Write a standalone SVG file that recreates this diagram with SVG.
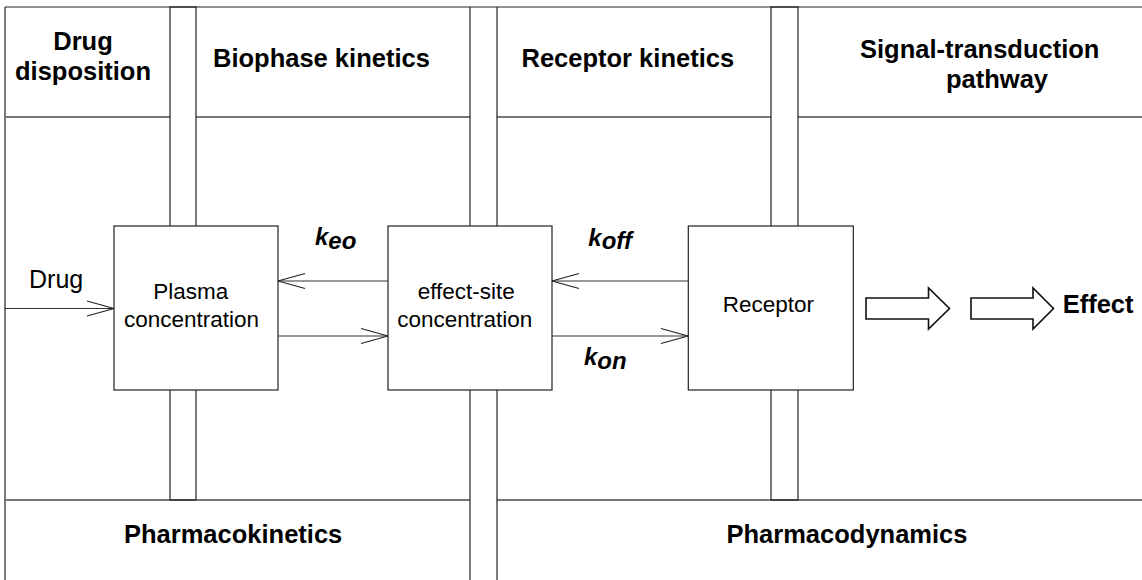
<svg xmlns="http://www.w3.org/2000/svg" width="1142" height="580" viewBox="0 0 1142 580">
<style>
.frame{stroke:#222;stroke-width:1.2;fill:none}
.div{stroke:#777;stroke-width:2;fill:none}
.box{stroke:#222;stroke-width:1.2;fill:#fff}
.conn{stroke:#333;stroke-width:1.2;fill:none}
.blk{stroke:#111;stroke-width:1.6;fill:#fff;stroke-linejoin:miter}
.hd{font-family:"Liberation Sans",Arial,sans-serif;font-weight:bold;font-size:25.5px;fill:#000}
.tx{font-family:"Liberation Sans",Arial,sans-serif;font-size:22.5px;fill:#000}
.k{font-family:"Liberation Sans",Arial,sans-serif;font-weight:bold;font-style:italic;font-size:24px;fill:#000}
</style>
<defs>
<marker id="open" markerUnits="userSpaceOnUse" markerWidth="32" markerHeight="20" viewBox="-30 -10 32 20" refX="0" refY="0" orient="auto">
<path d="M-27,-7.5 L0,0 L-27,7.5" fill="none" stroke="#222" stroke-width="1.2"/>
</marker>
</defs>
<rect width="1142" height="580" fill="#fff"/>
<g id="frame">
<line class="frame" x1="5" y1="7" x2="1142" y2="7"/>
<line class="frame" x1="5" y1="7" x2="5" y2="580"/>
<line class="div" x1="5" y1="117" x2="170" y2="117"/>
<line class="div" x1="196" y1="117" x2="470" y2="117"/>
<line class="div" x1="497" y1="117" x2="771" y2="117"/>
<line class="div" x1="798" y1="117" x2="1142" y2="117"/>
<line class="div" x1="5" y1="500" x2="470" y2="500"/>
<line class="div" x1="497" y1="500" x2="1142" y2="500"/>
<rect class="frame" x="170" y="7" width="26" height="493"/>
<line class="frame" x1="470" y1="7" x2="470" y2="580"/>
<line class="frame" x1="497" y1="7" x2="497" y2="580"/>
<rect class="frame" x="771" y="7" width="27" height="493"/>
</g>
<g id="headers">
<text class="hd" x="83" y="50" text-anchor="middle">Drug</text>
<text class="hd" x="83" y="80" text-anchor="middle">disposition</text>
<text class="hd" x="213" y="67">Biophase kinetics</text>
<text class="hd" x="521.5" y="67">Receptor kinetics</text>
<text class="hd" x="860" y="58">Signal-transduction</text>
<text class="hd" x="946" y="88">pathway</text>
<text class="hd" x="124" y="543">Pharmacokinetics</text>
<text class="hd" x="726.5" y="543">Pharmacodynamics</text>
</g>
<g id="connectors">
<line class="conn" x1="5" y1="308.5" x2="114" y2="308.5" marker-end="url(#open)"/>
<line class="conn" x1="388" y1="281" x2="278" y2="281" marker-end="url(#open)"/>
<line class="conn" x1="278" y1="336" x2="388" y2="336" marker-end="url(#open)"/>
<line class="conn" x1="688" y1="281" x2="552" y2="281" marker-end="url(#open)"/>
<line class="conn" x1="552" y1="336" x2="688" y2="336" marker-end="url(#open)"/>
<polygon class="blk" points="866,298 928.5,298 928.5,288 949.5,308.5 928.5,329 928.5,319 866,319"/>
<polygon class="blk" points="971,298 1033,298 1033,288 1053.5,308.5 1033,329 1033,319 971,319"/>
</g>
<g id="plasma">
<rect class="box" x="114" y="226" width="164" height="164"/>
<text class="tx" x="153.3" y="299.3">Plasma</text>
<text class="tx" x="124" y="326.7">concentration</text>
</g>
<g id="effect-site">
<rect class="box" x="388" y="226" width="164" height="164"/>
<text class="tx" x="417.7" y="299.3">effect-site</text>
<text class="tx" x="397.3" y="326.7">concentration</text>
</g>
<g id="receptor">
<rect class="box" x="688.3" y="226" width="165" height="164"/>
<text class="tx" x="722.7" y="311.7">Receptor</text>
</g>
<g id="labels">
<text class="tx" x="29" y="288" style="font-size:25px">Drug</text>
<text class="k" x="315" y="245">k<tspan dy="4.3">eo</tspan></text>
<text class="k" x="588.3" y="246">k<tspan dy="3.3">off</tspan></text>
<text class="k" x="584" y="365">k<tspan dy="4.3">on</tspan></text>
<text class="hd" x="1062.7" y="313.3">Effect</text>
</g>
</svg>
